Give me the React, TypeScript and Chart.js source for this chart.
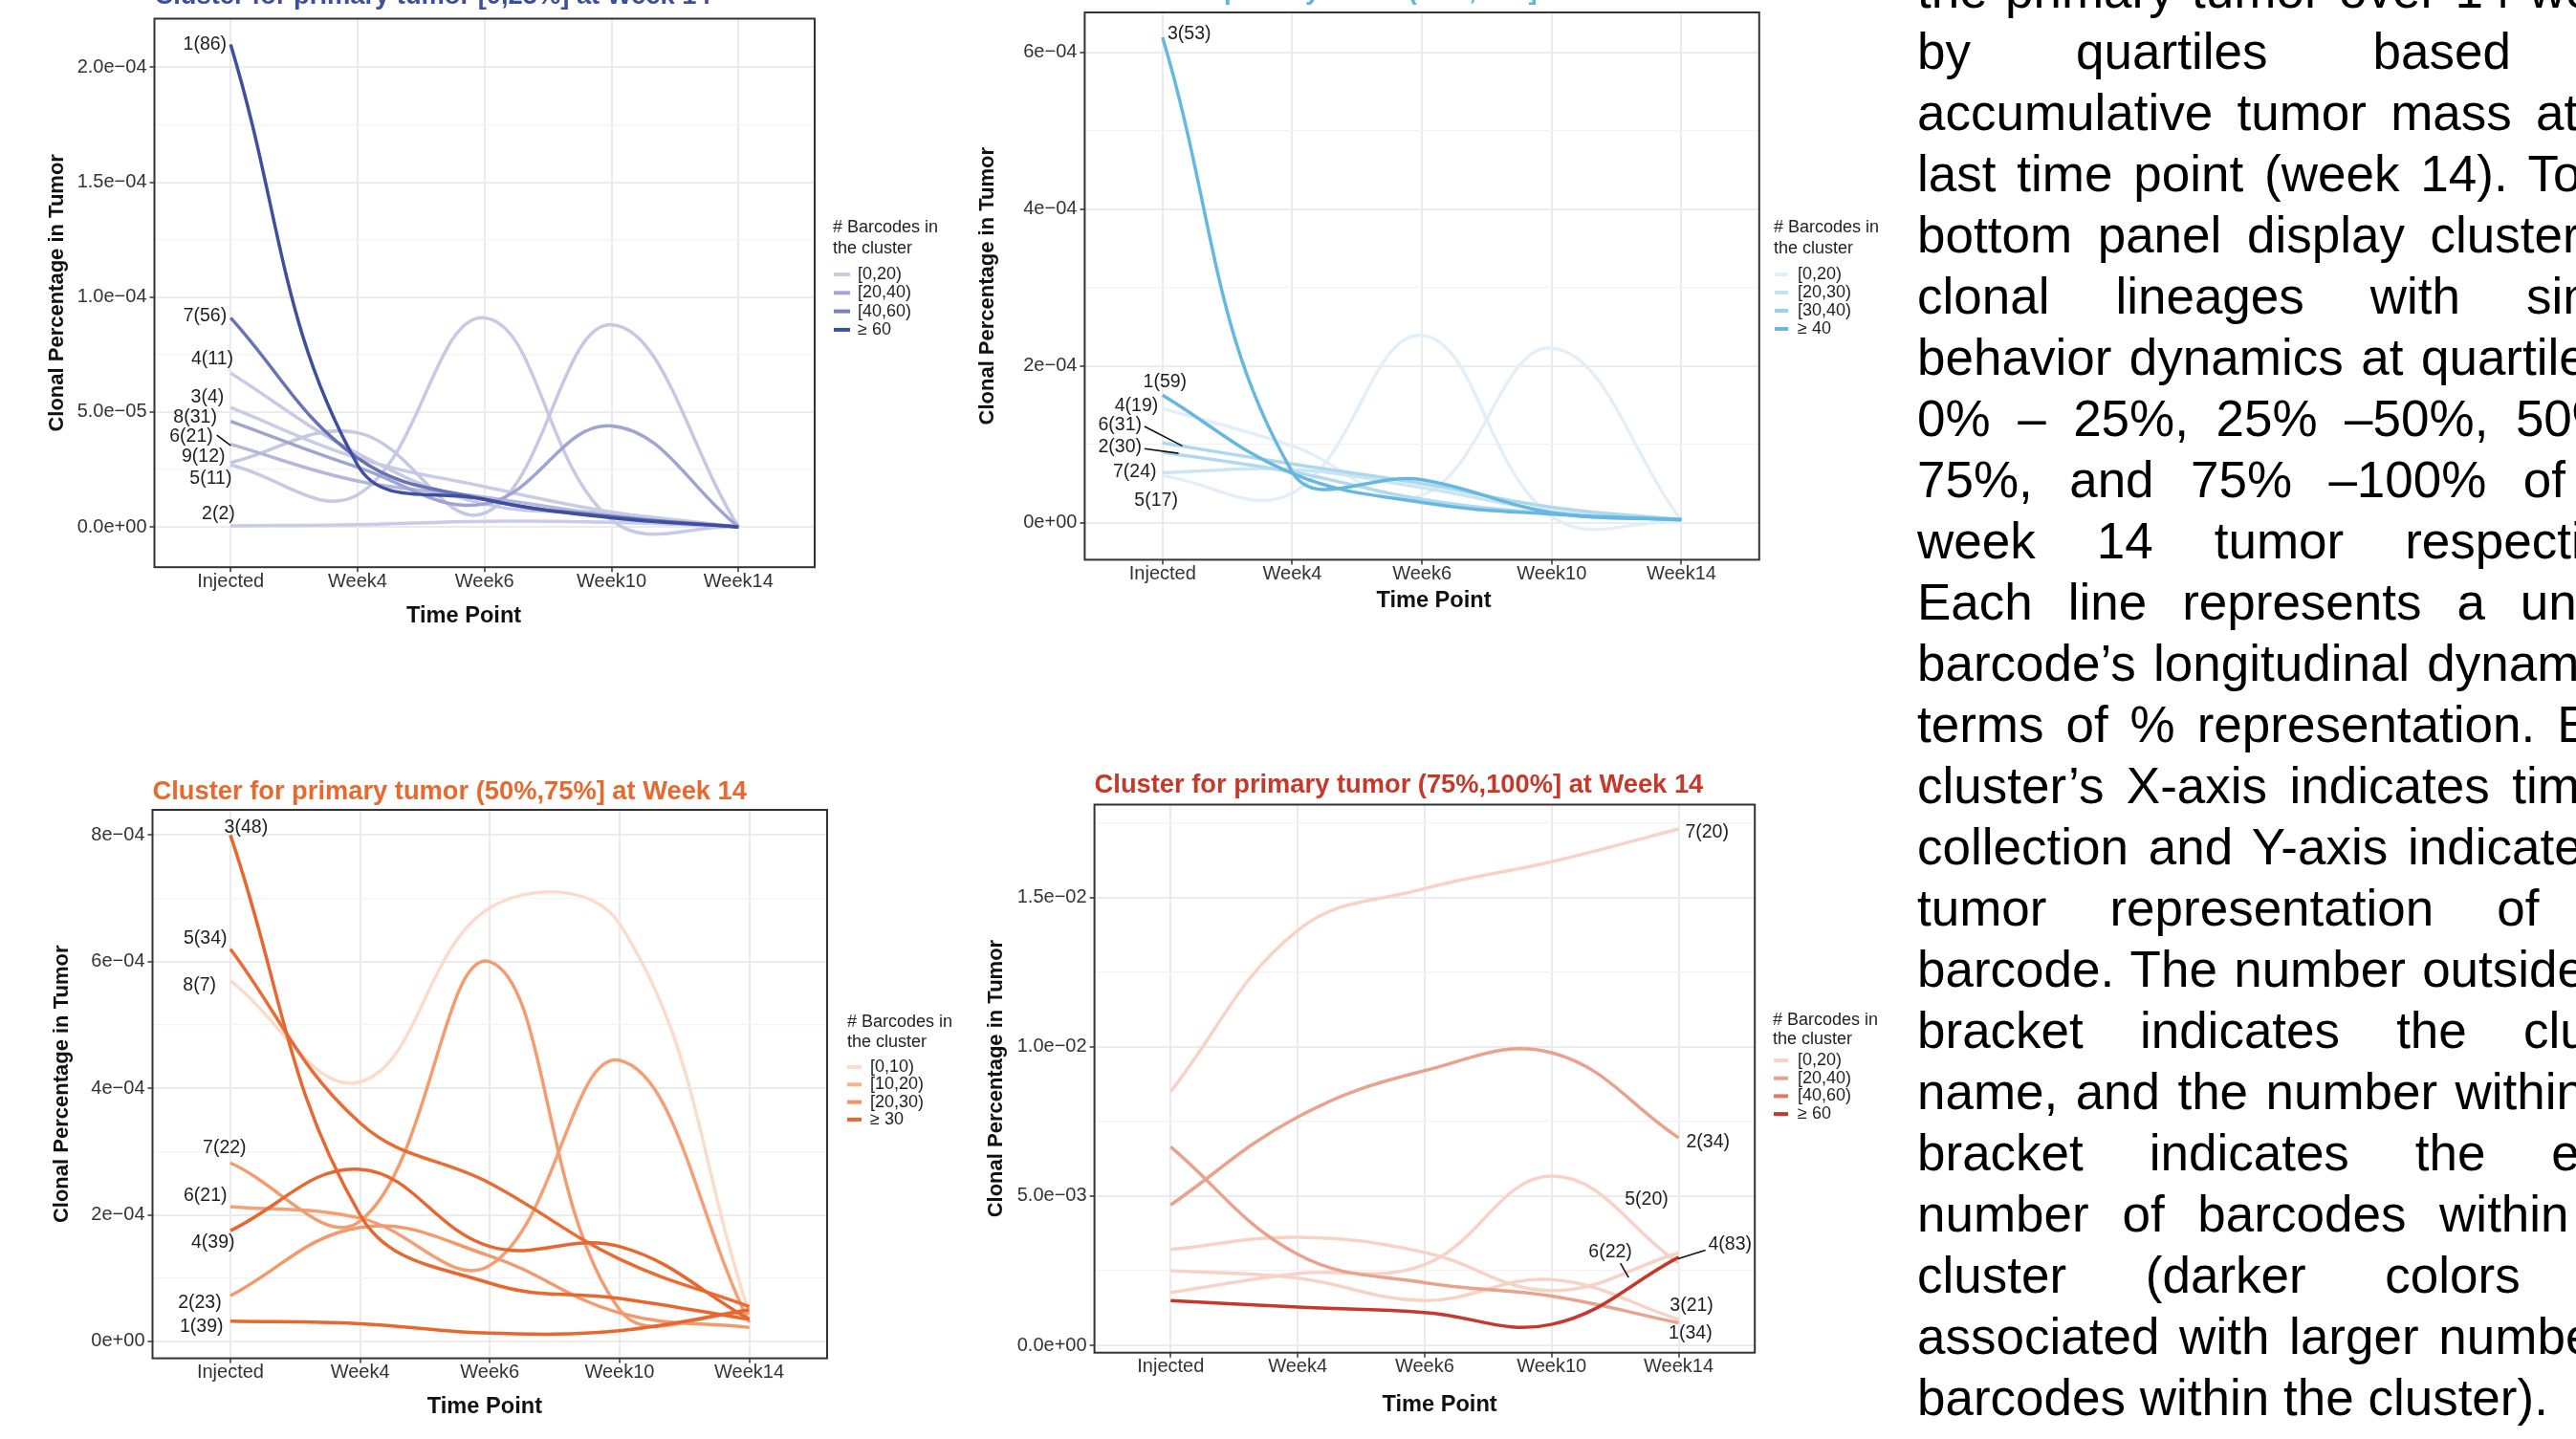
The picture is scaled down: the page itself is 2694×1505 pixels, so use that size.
import React, { useEffect, useRef } from "react";
import { Chart, registerables } from "chart.js";
Chart.register(...registerables);

const FONT = '"Liberation Sans", Arial, Helvetica, sans-serif';

// ---------- shared ----------
const timePoints = ["Injected", "Week4", "Week6", "Week10", "Week14"];
const xAxisTitle = "Time Point";
const yAxisTitle = "Clonal Percentage in Tumor";
const legendTitle = ["# Barcodes in", "the cluster"];

// ---------- panel 1 : [0,25%] ----------
const p1Title = "Cluster for primary tumor [0,25%] at Week 14";
const p1Clusters = ["1(86)", "7(56)", "4(11)", "3(4)", "8(31)", "6(21)", "9(12)", "5(11)", "2(2)"];
const p1Counts = [86, 56, 11, 4, 31, 21, 12, 11, 2];
const p1Values = [
  [2.1e-4, 2.7e-5, 1.2e-5, 4.0e-6, 0],
  [9.1e-5, 3.0e-5, 1.2e-5, 4.5e-6, 0],
  [6.7e-5, 3.2e-5, 1.0e-5, 6.0e-6, 0],
  [5.2e-5, 3.0e-5, 1.75e-5, 6.5e-6, 0],
  [4.6e-5, 2.6e-5, 1.0e-5, 4.4e-5, 0],
  [3.6e-5, 2.0e-5, 1.3e-5, 5.0e-6, 0],
  [2.8e-5, 4.1e-5, 6.0e-6, 8.8e-5, 0],
  [2.7e-5, 1.4e-5, 9.1e-5, 3.0e-6, 0],
  [5e-7, 1e-6, 2.5e-6, 2e-6, 0],
];
const p1YTicks = [0, 5e-5, 1e-4, 1.5e-4, 2e-4];
const p1YTickLabels = ["0.0e+00", "5.0e\u221205", "1.0e\u221204", "1.5e\u221204", "2.0e\u221204"];
const p1LegendLabels = ["[0,20)", "[20,40)", "[40,60)", "\u2265 60"];

// ---------- panel 2 : (25%,50%] ----------
const p2Title = "Cluster for primary tumor (25%,50%] at Week 14";
const p2Clusters = ["3(53)", "1(59)", "4(19)", "6(31)", "2(30)", "7(24)", "5(17)"];
const p2Counts = [53, 59, 19, 31, 30, 24, 17];
const p2Values = [
  [6.19e-4, 6.5e-5, 5.5e-5, 1.3e-5, 4e-6],
  [1.63e-4, 6.3e-5, 2.6e-5, 1.1e-5, 4e-6],
  [1.46e-4, 9.8e-5, 3.5e-5, 2.23e-4, 3e-6],
  [1.02e-4, 7.5e-5, 5.0e-5, 2.0e-5, 4e-6],
  [9.0e-5, 6.5e-5, 3.0e-5, 1.2e-5, 4e-6],
  [6.4e-5, 6.8e-5, 4.5e-5, 1.5e-5, 3e-6],
  [6.0e-5, 3.8e-5, 2.39e-4, 8e-6, 2e-6],
];
const p2YTicks = [0, 2e-4, 4e-4, 6e-4];
const p2YTickLabels = ["0e+00", "2e\u221204", "4e\u221204", "6e\u221204"];
const p2LegendLabels = ["[0,20)", "[20,30)", "[30,40)", "\u2265 40"];

// ---------- panel 3 : (50%,75%] ----------
const p3Title = "Cluster for primary tumor (50%,75%] at Week 14";
const p3Clusters = ["3(48)", "5(34)", "8(7)", "7(22)", "6(21)", "4(39)", "2(23)", "1(39)"];
const p3Counts = [48, 34, 7, 22, 21, 39, 23, 39];
const p3Values = [
  [8.0e-4, 2.0e-4, 9.2e-5, 6.8e-5, 3.5e-5],
  [6.2e-4, 3.45e-4, 2.5e-4, 1.3e-4, 5.5e-5],
  [5.7e-4, 4.1e-4, 6.85e-4, 6.6e-4, 4.5e-5],
  [2.82e-4, 1.9e-4, 6.0e-4, 5.0e-5, 4.5e-5],
  [2.13e-4, 1.95e-4, 1.2e-4, 4.44e-4, 3.0e-5],
  [1.75e-4, 2.72e-4, 1.5e-4, 1.5e-4, 3.5e-5],
  [7.2e-5, 1.8e-4, 1.35e-4, 4.5e-5, 2.2e-5],
  [3.2e-5, 2.8e-5, 1.3e-5, 1.7e-5, 5.0e-5],
];
const p3YTicks = [0, 2e-4, 4e-4, 6e-4, 8e-4];
const p3YTickLabels = ["0e+00", "2e\u221204", "4e\u221204", "6e\u221204", "8e\u221204"];
const p3LegendLabels = ["[0,10)", "[10,20)", "[20,30)", "\u2265 30"];

// ---------- panel 4 : (75%,100%] ----------
const p4Title = "Cluster for primary tumor (75%,100%] at Week 14";
const p4Clusters = ["7(20)", "2(34)", "5(20)", "6(22)", "4(83)", "3(21)", "1(34)"];
const p4Counts = [20, 34, 20, 22, 83, 21, 34];
const p4Values = [
  [8.5e-3, 1.39e-2, 1.53e-2, 1.62e-2, 1.73e-2],
  [4.7e-3, 7.65e-3, 9.2e-3, 9.8e-3, 6.95e-3],
  [1.77e-3, 2.4e-3, 2.7e-3, 5.67e-3, 2.75e-3],
  [3.21e-3, 3.62e-3, 3.11e-3, 1.83e-3, 3.1e-3],
  [1.5e-3, 1.28e-3, 1.1e-3, 7.0e-4, 2.95e-3],
  [2.5e-3, 2.25e-3, 1.5e-3, 2.2e-3, 8.7e-4],
  [6.65e-3, 3.05e-3, 2.1e-3, 1.65e-3, 7.5e-4],
];
const p4YTicks = [0, 5e-3, 1e-2, 1.5e-2];
const p4YTickLabels = ["0.0e+00", "5.0e\u221203", "1.0e\u221202", "1.5e\u221202"];
const p4LegendLabels = ["[0,20)", "[20,40)", "[40,60)", "\u2265 60"];

// ---------- caption ----------
const captionLines = [
  "the primary tumor over 14 weeks",
  "by quartiles based on",
  "accumulative tumor mass at the",
  "last time point (week 14). Top to",
  "bottom panel display clusters of",
  "clonal lineages with similar",
  "behavior dynamics at quartiles of",
  "0% \u2013 25%, 25% \u201350%, 50% \u2013",
  "75%, and 75% \u2013100% of the",
  "week 14 tumor respectively",
  "Each line represents a unique",
  "barcode\u2019s longitudinal dynamic in",
  "terms of % representation. Each",
  "cluster\u2019s X-axis indicates time of",
  "collection and Y-axis indicates %",
  "tumor representation of the",
  "barcode. The number outside the",
  "bracket indicates the cluster",
  "name, and the number within the",
  "bracket indicates the exact",
  "number of barcodes within the",
  "cluster (darker colors are",
  "associated with larger number of",
  "barcodes within the cluster).",
];

// ---------- layout / style (not data) ----------
type LabelOff = { dx: number; dy: number; align: CanvasTextAlign; leader?: number[] };

const p1LabelOffsets: LabelOff[] = [
  { dx: -4.1, dy: 0.3, align: "right" },
  { dx: -4, dy: -1.4, align: "right" },
  { dx: 2.9, dy: -14.2, align: "right" },
  { dx: -6.9, dy: -10.3, align: "right" },
  { dx: -14.3, dy: -3.8, align: "right" },
  { dx: -18.4, dy: -8.3, align: "right", leader: [-14.4, -9.6, 0, 1.3] },
  { dx: -5.7, dy: -6.2, align: "right" },
  { dx: 1.2, dy: 14.4, align: "right" },
  { dx: 4.6, dy: -12.3, align: "right" },
];
const p2LabelOffsets: LabelOff[] = [
  { dx: 5.2, dy: -3.5, align: "left" },
  { dx: 25.3, dy: -13.1, align: "right" },
  { dx: -4.5, dy: -2.7, align: "right" },
  { dx: -21.8, dy: -18.5, align: "right", leader: [-18.9, -17.2, 20.7, 3.2] },
  { dx: -21.8, dy: -5.4, align: "right", leader: [-18.9, -3.7, 16.7, 1.1] },
  { dx: -6.3, dy: -1.2, align: "right" },
  { dx: 16.1, dy: 26.3, align: "right" },
];
const p3LabelOffsets: LabelOff[] = [
  { dx: -6.3, dy: -8.2, align: "left" },
  { dx: -3.4, dy: -11, align: "right" },
  { dx: -14.9, dy: 4.7, align: "right" },
  { dx: 16.7, dy: -15.8, align: "right" },
  { dx: -3.4, dy: -11.3, align: "right" },
  { dx: 4.6, dy: 12.2, align: "right" },
  { dx: -9.2, dy: 7.1, align: "right" },
  { dx: -7.4, dy: 5.7, align: "right" },
];
const p4LabelOffsets: LabelOff[] = [
  { dx: 6.9, dy: 4, align: "left" },
  { dx: 8, dy: 4.3, align: "left" },
  { dx: -56.3, dy: -66.1, align: "left" },
  { dx: -94.2, dy: -0.5, align: "left", leader: [-60.9, 10.9, -52.3, 26] },
  { dx: 31, dy: -12.9, align: "left", leader: [28.1, -7.4, -0.6, 1.7] },
  { dx: -9.2, dy: -14, align: "left" },
  { dx: -10.4, dy: 10.6, align: "left" },
];

type PanelSpec = {
  title: string; clusters: string[]; counts: number[]; values: number[][];
  yTicks: number[]; yTickLabels: string[]; legendLabels: string[];
  labelOffsets: LabelOff[]; labelAnchor: number;
  left: number; top: number; w: number; h: number;
  padLeft: number; yAxisW: number; padTop: number; padRight: number; xAxisH: number;
  xTitleX: number; xTitleY: number; // page coordinates of x-axis title centre
  yMin: number; yMax: number; titleColor: string; titleGap: number;
  colors: string[]; anchors: number[];
  // legend positions in page coordinates
  lgX: number; lgTitleY: number[]; lgItemY0: number; lgStep: number; lgSw: number[]; lgTextX: number;
};

const panels: PanelSpec[] = [
  {
    title: p1Title, clusters: p1Clusters, counts: p1Counts, values: p1Values,
    yTicks: p1YTicks, yTickLabels: p1YTickLabels, legendLabels: p1LegendLabels,
    labelOffsets: p1LabelOffsets, labelAnchor: 0,
    left: 0, top: 0, w: 1000, h: 680,
    padLeft: 47.1, yAxisW: 114.4, padTop: 19.5, padRight: 148, xAxisH: 86.8,
    xTitleX: 485.1, xTitleY: 644,
    yMin: -1.75e-5, yMax: 2.212e-4, titleColor: "#3D4E9E", titleGap: 16,
    colors: ["#C9CCE6", "#A1A7D1", "#7982BF", "#3E4F9F"], anchors: [10, 30, 50, 70],
    lgX: 871, lgTitleY: [238, 260], lgItemY0: 287, lgStep: 19.3, lgSw: [872, 889], lgTextX: 897,
  },
  {
    title: p2Title, clusters: p2Clusters, counts: p2Counts, values: p2Values,
    yTicks: p2YTicks, yTickLabels: p2YTickLabels, legendLabels: p2LegendLabels,
    labelOffsets: p2LabelOffsets, labelAnchor: 0,
    left: 1000, top: 0, w: 990, h: 680,
    padLeft: 20.1, yAxisW: 114.3, padTop: 12.1, padRight: 150.2, xAxisH: 94.6,
    xTitleX: 1499.5, xTitleY: 628.8,
    yMin: -4.7e-5, yMax: 6.508e-4, titleColor: "#5DB5DF", titleGap: 14,
    colors: ["#E3EFF8", "#C3E1F1", "#9FD0EB", "#65B8DF"], anchors: [19, 26, 35, 45],
    lgX: 1855, lgTitleY: [238, 260], lgItemY0: 287, lgStep: 19, lgSw: [1856, 1870], lgTextX: 1880,
  },
  {
    title: p3Title, clusters: p3Clusters, counts: p3Counts, values: p3Values,
    yTicks: p3YTicks, yTickLabels: p3YTickLabels, legendLabels: p3LegendLabels,
    labelOffsets: p3LabelOffsets, labelAnchor: 0,
    left: 0, top: 780, w: 1000, h: 725,
    padLeft: 51.7, yAxisW: 107.8, padTop: 67, padRight: 135, xAxisH: 84.4,
    xTitleX: 506.9, xTitleY: 1471.7,
    yMin: -2.67e-5, yMax: 8.399e-4, titleColor: "#E8692E", titleGap: 11.4,
    colors: ["#FBDCCB", "#F6B28E", "#F09463", "#E8672F"], anchors: [8, 15, 25, 35],
    lgX: 886, lgTitleY: [1069.3, 1090], lgItemY0: 1116, lgStep: 18.3, lgSw: [886, 901], lgTextX: 910,
  },
  {
    title: p4Title, clusters: p4Clusters, counts: p4Counts, values: p4Values,
    yTicks: p4YTicks, yTickLabels: p4YTickLabels, legendLabels: p4LegendLabels,
    labelOffsets: p4LabelOffsets, labelAnchor: 4,
    left: 1000, top: 780, w: 990, h: 725,
    padLeft: 28.6, yAxisW: 116, padTop: 61.5, padRight: 154.8, xAxisH: 90.3,
    xTitleX: 1505.6, xTitleY: 1469.4,
    yMin: -2.47e-4, yMax: 1.8115e-2, titleColor: "#C5392B", titleGap: 12.7,
    colors: ["#F7D3C7", "#E9A28D", "#DC7A65", "#C8372B"], anchors: [22, 34, 50, 70],
    lgX: 1854, lgTitleY: [1066.7, 1087.3], lgItemY0: 1109, lgStep: 18.7, lgSw: [1855, 1870], lgTextX: 1880,
  },
];

function hexToRgb(h: string) {
  const n = parseInt(h.slice(1), 16);
  return [(n >> 16) & 255, (n >> 8) & 255, n & 255];
}
function countColor(c: number, anchors: number[], colors: string[]) {
  if (c <= anchors[0]) return colors[0];
  const last = anchors.length - 1;
  if (c >= anchors[last]) return colors[last];
  let i = 0;
  while (c > anchors[i + 1]) i++;
  const t = (c - anchors[i]) / (anchors[i + 1] - anchors[i]);
  const a = hexToRgb(colors[i]), b = hexToRgb(colors[i + 1]);
  const m = a.map((v, k) => Math.round(v + (b[k] - v) * t));
  return `rgb(${m[0]},${m[1]},${m[2]})`;
}

function buildYTickList(p: PanelSpec) {
  const step = (p.yTicks[1] - p.yTicks[0]) / 2;
  const list: { value: number; label: string; major: boolean }[] = [];
  for (let k = -4; k <= p.yTicks.length * 2 + 4; k++) {
    const v = p.yTicks[0] + k * step;
    if (v < p.yMin - 1e-12 || v > p.yMax + 1e-12) continue;
    const major = k % 2 === 0 && k >= 0 && k / 2 < p.yTicks.length;
    list.push({ value: v, label: major ? p.yTickLabels[k / 2] : "", major });
  }
  return list;
}

function Panel({ p }: { p: PanelSpec }) {
  const ref = useRef<HTMLCanvasElement>(null);
  useEffect(() => {
    const yList = buildYTickList(p);
    const datasets = p.values.map((vals, i) => ({
      label: p.clusters[i],
      data: vals.map((v, j) => ({ x: j + 1, y: v })),
      borderColor: countColor(p.counts[i], p.anchors, p.colors),
      borderWidth: 3.5,
      tension: 0.4,
      pointRadius: 0,
      fill: false,
      order: -p.counts[i],
    }));
    const decor = {
      id: "decor",
      afterDatasetsDraw(chart: any) {
        const { ctx, chartArea: a, scales } = chart;
        ctx.save();
        ctx.strokeStyle = "#333333";
        ctx.lineWidth = 2;
        ctx.strokeRect(a.left, a.top, a.right - a.left, a.bottom - a.top);
        ctx.font = `19.5px ${FONT}`;
        ctx.fillStyle = "#1e1e1e";
        ctx.textBaseline = "middle";
        p.clusters.forEach((name, i) => {
          const off = p.labelOffsets[i];
          const px = scales.x.getPixelForValue(p.labelAnchor + 1);
          const py = scales.y.getPixelForValue(p.values[i][p.labelAnchor]);
          ctx.textAlign = off.align;
          ctx.fillText(name, px + off.dx, py + off.dy);
          if (off.leader) {
            const l = off.leader;
            ctx.strokeStyle = "#111";
            ctx.lineWidth = 1.6;
            ctx.beginPath();
            ctx.moveTo(px + l[0], py + l[1]);
            ctx.lineTo(px + l[2], py + l[3]);
            ctx.stroke();
          }
        });
        ctx.restore();
      },
      afterDraw(chart: any) {
        const { ctx, chartArea: a } = chart;
        ctx.save();
        ctx.font = `bold 27.3px ${FONT}`;
        ctx.fillStyle = p.titleColor;
        ctx.textAlign = "left";
        ctx.textBaseline = "alphabetic";
        ctx.fillText(p.title, a.left, a.top - p.titleGap);
        // x-axis title
        ctx.font = `bold 23.6px ${FONT}`;
        ctx.fillStyle = "#111111";
        ctx.textAlign = "center";
        ctx.textBaseline = "middle";
        ctx.fillText(xAxisTitle, p.xTitleX - p.left, p.xTitleY - p.top);
        // legend
        ctx.textAlign = "left";
        ctx.font = `18px ${FONT}`;
        ctx.fillStyle = "#1e1e1e";
        ctx.fillText(legendTitle[0], p.lgX - p.left, p.lgTitleY[0] - p.top);
        ctx.fillText(legendTitle[1], p.lgX - p.left, p.lgTitleY[1] - p.top);
        p.legendLabels.forEach((lab, i) => {
          const y = p.lgItemY0 - p.top + i * p.lgStep;
          ctx.strokeStyle = p.colors[i];
          ctx.lineWidth = 4;
          ctx.beginPath();
          ctx.moveTo(p.lgSw[0] - p.left, y);
          ctx.lineTo(p.lgSw[1] - p.left, y);
          ctx.stroke();
          ctx.fillStyle = "#1e1e1e";
          ctx.fillText(lab, p.lgTextX - p.left, y);
        });
        ctx.restore();
      },
    };
    const chart = new Chart(ref.current as HTMLCanvasElement, {
      type: "line",
      data: { datasets },
      options: {
        responsive: false,
        animation: false,
        devicePixelRatio: 1,
        layout: { padding: { left: p.padLeft, top: p.padTop, right: p.padRight, bottom: 0 } },
        plugins: { legend: { display: false }, tooltip: { enabled: false } },
        scales: {
          x: {
            type: "linear",
            min: 0.4,
            max: 5.6,
            bounds: "data",
            afterBuildTicks: (axis: any) => {
              axis.ticks = timePoints.map((_, i) => ({ value: i + 1 }));
            },
            afterFit: (axis: any) => { axis.height = p.xAxisH; },
            ticks: {
              autoSkip: false, maxRotation: 0, minRotation: 0, padding: 0,
              color: "#333333",
              font: { family: FONT, size: 20, lineHeight: 1 },
              callback: (v: any) => timePoints[Math.round(Number(v)) - 1] ?? "",
            },
            grid: { color: "#EBEBEB", lineWidth: 2, tickLength: 5, tickColor: "#333333", tickWidth: 1.5 },
            border: { display: false },
            title: { display: false, text: xAxisTitle },
          },
          y: {
            type: "linear",
            min: p.yMin,
            max: p.yMax,
            bounds: "data",
            afterBuildTicks: (axis: any) => {
              axis.ticks = yList.map((t) => ({ value: t.value }));
            },
            afterFit: (axis: any) => { axis.width = p.yAxisW; },
            ticks: {
              autoSkip: false, padding: 3,
              color: "#333333",
              font: { family: FONT, size: 20, lineHeight: 1 },
              callback: (_v: any, i: number) => (yList[i] ? yList[i].label : ""),
            },
            grid: {
              color: (c: any) => (yList[c.index] && yList[c.index].major ? "#EBEBEB" : "#F3F3F3"),
              lineWidth: (c: any) => (yList[c.index] && yList[c.index].major ? 2 : 1.2),
              tickLength: 5,
              tickColor: (c: any) => (yList[c.index] && yList[c.index].major ? "#333333" : "rgba(0,0,0,0)"),
              tickWidth: 1.5,
            },
            border: { display: false },
            title: {
              display: true, text: yAxisTitle, color: "#111111",
              font: { family: FONT, size: 22, weight: "bold", lineHeight: 1.2 },
              padding: { top: 0, bottom: 0 },
            },
          },
        },
      } as any,
      plugins: [decor as any],
    });
    return () => chart.destroy();
  }, []);
  return (
    <canvas
      ref={ref}
      width={p.w}
      height={p.h}
      style={{ position: "absolute", left: p.left, top: p.top, width: p.w, height: p.h }}
    />
  );
}

export default function App() {
  return (
    <div style={{ position: "absolute", left: 0, top: 0, width: 2694, height: 1505, overflow: "hidden", background: "#ffffff" }}>
      {panels.map((p, i) => (
        <Panel key={i} p={p} />
      ))}
      <div
        style={{
          position: "absolute", left: 2005, top: -41.6, width: 790,
          fontFamily: FONT, fontSize: 53, lineHeight: "64px", color: "#000",
        }}
      >
        {captionLines.map((line, i) => (
          <div
            key={i}
            style={{
              textAlign: "justify",
              textAlignLast: i === captionLines.length - 1 ? "left" : "justify",
              height: 64,
            } as any}
          >
            {line}
          </div>
        ))}
      </div>
    </div>
  );
}
